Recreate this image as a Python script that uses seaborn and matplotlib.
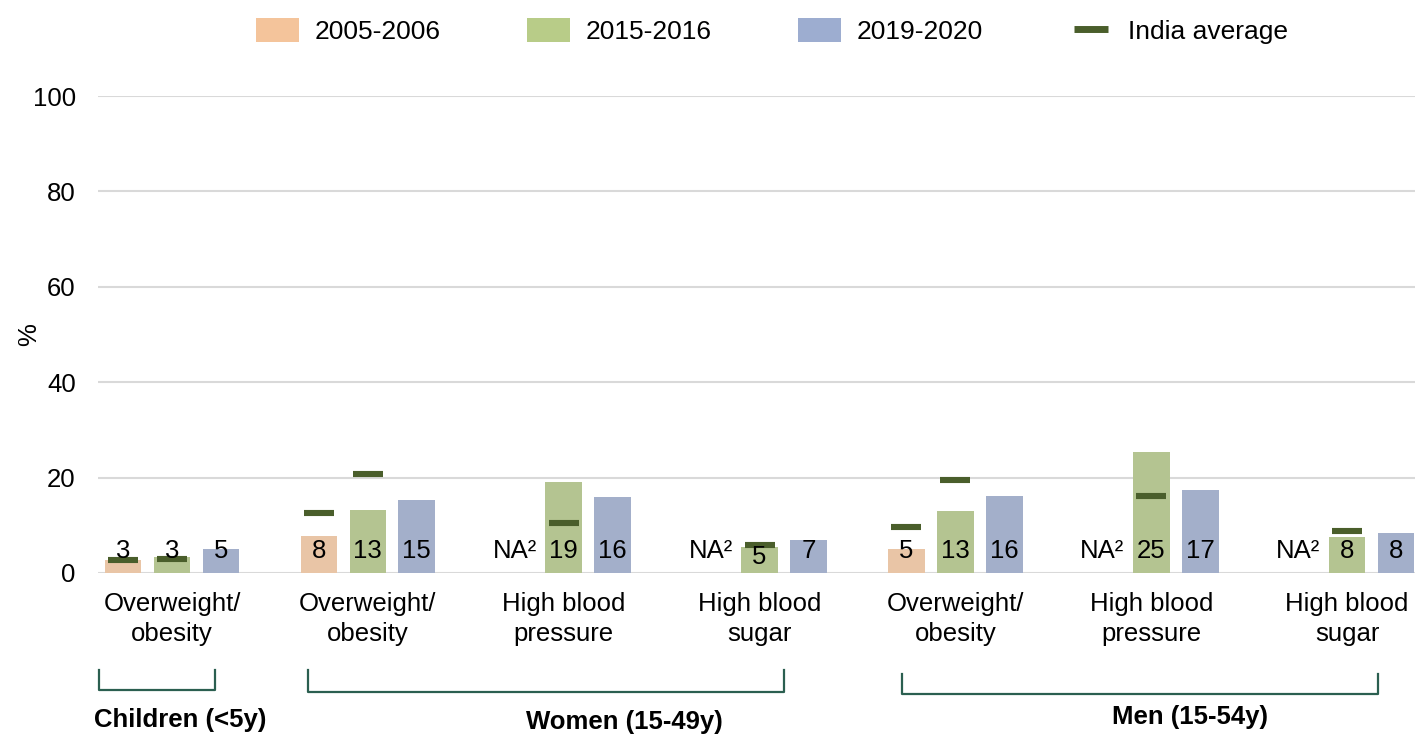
import matplotlib.pyplot as plt
import pandas as pd
import seaborn as sns
from matplotlib.lines import Line2D
from matplotlib.patches import Patch

# data
categories = ['c_ow', 'w_ow', 'w_hbp', 'w_hbs', 'm_ow', 'm_hbp', 'm_hbs']
tick_labels = ['Overweight/\nobesity', 'Overweight/\nobesity', 'High blood\npressure',
               'High blood\nsugar', 'Overweight/\nobesity', 'High blood\npressure',
               'High blood\nsugar']
years = ['2005-2006', '2015-2016', '2019-2020']
v2005 = [2.7, 7.8, None, None, 5.0, None, None]
v2015 = [3.4, 13.2, 19.1, 5.4, 13.0, 25.4, 7.6]
v2019 = [5.0, 15.3, 15.9, 6.9, 16.1, 17.4, 8.4]
india_2005 = [2.7, 12.6, None, None, 9.7, None, None]
india_2015 = [2.9, 20.7, 10.4, 5.9, 19.5, 16.2, 8.8]
groups = ['Children (<5y)', 'Women (15-49y)', 'Men (15-54y)']

colors = ['#f4c49b', '#b8cc88', '#9dadd0']
avg_color = '#4a5e2b'
bracket_color = '#2b5f50'
fs = 18.5

rows = []
for year, vals in zip(years, [v2005, v2015, v2019]):
    for cat, v in zip(categories, vals):
        if v is not None:
            rows.append({'cat': cat, 'year': year, 'value': v})
df = pd.DataFrame(rows)

plt.rcParams['font.family'] = ['Liberation Sans', 'DejaVu Sans']
W, H = 1415, 734
fig = plt.figure(figsize=(W / 100, H / 100), dpi=100)
ax = fig.add_axes([98 / W, 1 - 573 / H, 1 - 98 / W, (573 - 96) / H])

sns.barplot(data=df, x='cat', y='value', hue='year', order=categories,
            hue_order=years, palette=colors, width=0.75, gap=0.25,
            errorbar=None, legend=False, ax=ax, zorder=2)

slot = 0.25
# India average markers
for h, avg in enumerate([india_2005, india_2015]):
    xs = [i + (h - 1) * slot for i, a in enumerate(avg) if a is not None]
    ys = [a for a in avg if a is not None]
    ax.scatter(xs, ys, marker='_', s=470, linewidths=4.4, color=avg_color, zorder=4)

# value labels
for h, vals in enumerate([v2005, v2015, v2019]):
    for i, v in enumerate(vals):
        x = i + (h - 1) * slot
        if v is None:
            ax.text(x, 4.6, 'NA²', ha='center', va='center', fontsize=fs, zorder=5)
        else:
            y = 3.4 if (i == 3 and h == 1) else 4.6
            ax.text(x, y, f'{round(v)}', ha='center', va='center', fontsize=fs, zorder=5)

ax.set_xlim(-0.378, 6.347)
ax.set_ylim(0, 100)
ax.set_yticks([0, 20, 40, 60, 80, 100])
ax.set_xticks(range(len(categories)))
ax.set_xticklabels(tick_labels, fontsize=fs, linespacing=1.3)
ax.tick_params(axis='y', length=0, pad=16, labelsize=fs)
ax.tick_params(axis='x', length=0, pad=14)
ax.set_xlabel('')
ax.set_ylabel('%', fontsize=fs)
ax.yaxis.set_label_coords(-0.043, 0.5)
ax.grid(axis='y', color='#d9d9d9', linewidth=1.5, zorder=0)
ax.set_axisbelow(True)
for s in ax.spines.values():
    s.set_visible(False)

# legend
handles = [Patch(facecolor=c, edgecolor='none') for c in colors]
handles.append(Line2D([], [], marker='_', linestyle='none', color=avg_color,
                      markersize=24, markeredgewidth=5))
fig.legend(handles, years + ['India average'], loc='center', ncol=4,
           bbox_to_anchor=(772 / W, 1 - 31 / H), frameon=False, fontsize=19,
           handlelength=1.63, handleheight=1.06, handletextpad=0.6,
           columnspacing=3.26)

# group brackets
brackets = [(99, 215, 670, 690), (308, 784, 670, 692), (902, 1378, 674, 694)]
label_pos = [(180, 720), (624, 722), (1190, 717)]
for (x0, x1, yt, yb), name, (lx, ly) in zip(brackets, groups, label_pos):
    fx = [x0 / W, x0 / W, x1 / W, x1 / W]
    fy = [1 - yt / H, 1 - yb / H, 1 - yb / H, 1 - yt / H]
    fig.add_artist(Line2D(fx, fy, color=bracket_color, linewidth=1.6,
                          transform=fig.transFigure))
    fig.text(lx / W, 1 - ly / H, name, ha='center', va='center',
             fontsize=fs, fontweight='bold')

plt.savefig('out.png', dpi=100)
